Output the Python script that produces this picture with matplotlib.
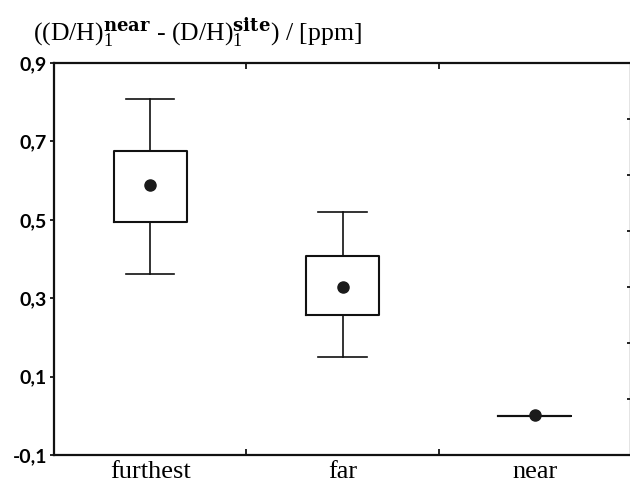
import matplotlib
matplotlib.use("Agg")
import matplotlib.pyplot as plt

categories = ["furthest", "far", "near"]
whisker_low = [0.362, 0.149, 0.0]
box_low = [0.495, 0.257, 0.0]
center = [0.589, 0.329, 0.002]
box_high = [0.676, 0.408, 0.0]
whisker_high = [0.808, 0.521, 0.0]
y_ticks = [-0.1, 0.1, 0.3, 0.5, 0.7, 0.9]
y_tick_labels = ["-0,1", "0,1", "0,3", "0,5", "0,7", "0,9"]

plt.rcParams['mathtext.fontset'] = 'custom'
plt.rcParams['mathtext.rm'] = 'Liberation Serif'
plt.rcParams['mathtext.it'] = 'Liberation Serif:italic'
plt.rcParams['mathtext.bf'] = 'DejaVu Serif:bold'

fig = plt.figure(figsize=(6.3, 4.88), dpi=100)
ax = fig.add_axes([54/630, 33/488, 577/630, 392/488])

positions = list(range(1, len(categories) + 1))
stats = []
for i in range(len(categories)):
    stats.append(dict(whislo=whisker_low[i], q1=box_low[i], med=center[i], q3=box_high[i],
                      whishi=whisker_high[i], mean=center[i], fliers=[]))
ax.bxp(stats, positions=positions, widths=0.38, showmeans=True, showfliers=False,
       boxprops=dict(color='#111111', linewidth=1.5),
       whiskerprops=dict(color='#111111', linewidth=1.2),
       capprops=dict(color='#111111', linewidth=1.2),
       capwidths=0.25,
       medianprops=dict(visible=False),
       meanprops=dict(marker='o', markerfacecolor='#1a1a1a', markeredgecolor='#1a1a1a', markersize=8))

ax.set_xlim(0.5, 3.5)
ax.set_ylim(-0.1, 0.9)
ax.set_yticks(y_ticks)
ax.set_yticklabels(y_tick_labels, fontsize=14, family='Lato', fontweight='bold')
ax.set_xticks(positions)
ax.set_xticklabels(categories, fontsize=19, family='Liberation Serif')
ax.tick_params(axis='x', length=0, pad=4)
ax.tick_params(axis='y', length=3, width=1.2, direction='out', pad=2)
ax.set_xticks([1.5, 2.5], minor=True)
ax.tick_params(axis='x', which='minor', length=4, width=1.2, direction='in', top=True, bottom=True)
for s in ax.spines.values():
    s.set_linewidth(1.6)
    s.set_color('#111111')

ax2 = ax.twinx()
ax2.set_ylim(0, 7)
ax2.set_yticks([1, 2, 3, 4, 5, 6])
ax2.set_yticklabels([])
ax2.tick_params(axis='y', length=3, width=1.2, direction='in')
for s in ax2.spines.values():
    s.set_visible(False)

fig.text(33/630, 1 - 32/488,
         r'((D/H)$_1^{\mathbf{near}}$ - (D/H)$_1^{\mathbf{site}}$) / [ppm]',
         fontsize=18.5, family='Liberation Serif', va='center', ha='left')

fig.savefig('out.png', dpi=100)
